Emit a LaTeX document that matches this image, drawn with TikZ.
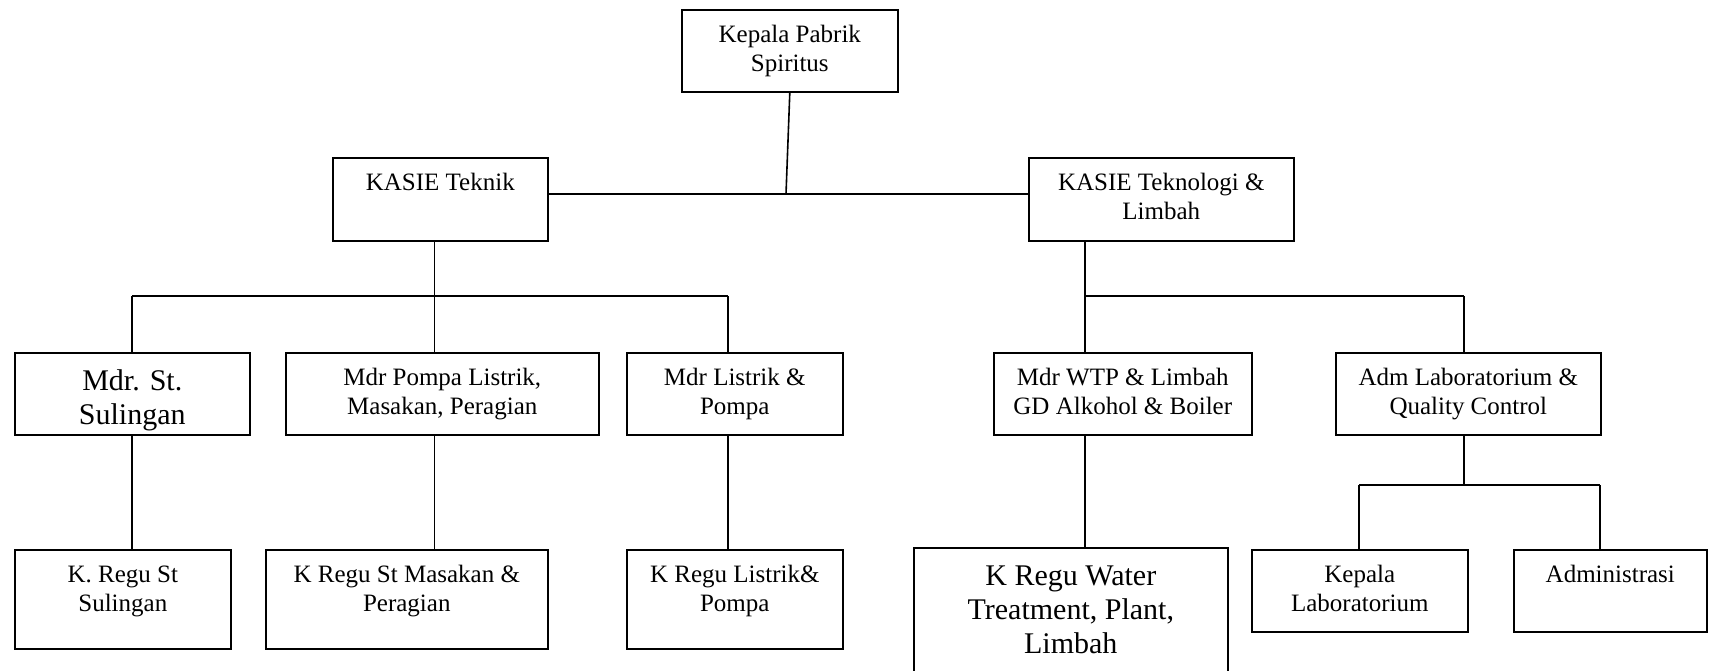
\documentclass[tikz,border=0pt]{standalone}
\usepackage{fontspec}
\setmainfont{Liberation Serif}
\usetikzlibrary{calc}

% text block of one unit: width, height (pt), lines
\newcommand{\unittext}[3]{\parbox[c][#2pt][t]{#1pt}{\centering\fontsize{25}{28.4}\selectfont\vspace*{13pt}\strut#3}}
\newcommand{\bigunittext}[3]{\parbox[c][#2pt][t]{#1pt}{\centering\fontsize{30}{34}\selectfont\vspace*{14pt}\strut#3}}

\tikzset{
  unit/.style={draw, line width=1.6pt, inner sep=0pt, anchor=north west},
  link/.style={line width=1.6pt}
}

\begin{document}
\begin{tikzpicture}[x=1pt, y=-1pt]

        \useasboundingbox (0,0) rectangle (1710,670);

        % top
        \node[unit] (kepala) at (681,9) {\unittext{216}{82}{Kepala Pabrik\\Spiritus}};

        % kasie
        \node[unit] (teknik) at (332,157) {\unittext{215}{83}{KASIE Teknik}};
        \node[unit] (teklim) at (1028,157) {\unittext{265}{83}{KASIE Teknologi \&\\Limbah}};

        % mandor
        \node[unit] (mdrsul) at (14,352) {\bigunittext{235}{82}{Mdr. St.\\Sulingan}};
        \node[unit] (mdrpom) at (285,352) {\unittext{313}{82}{Mdr Pompa Listrik,\\Masakan, Peragian}};
        \node[unit] (mdrlis) at (626,352) {\unittext{216}{82}{Mdr Listrik \&\\Pompa}};
        \node[unit] (mdrwtp) at (993,352) {\unittext{258}{82}{Mdr WTP \& Limbah\\GD Alkohol \& Boiler}};
        \node[unit] (admlab) at (1335,352) {\unittext{265}{82}{Adm Laboratorium \&\\Quality Control}};

        % regu
        \node[unit] (regsul) at (14,549) {\unittext{216}{99}{K. Regu St\\Sulingan}};
        \node[unit] (regmas) at (265,549) {\unittext{282}{99}{K Regu St Masakan \&\\Peragian}};
        \node[unit] (reglis) at (626,549) {\unittext{216}{99}{K Regu Listrik\&\\Pompa}};
        \node[unit] (regwtp) at (913,547) {\bigunittext{314}{140}{K Regu Water\\Treatment, Plant,\\Limbah}};
        \node[unit] (kalab) at (1251,549) {\unittext{216}{82}{Kepala\\Laboratorium}};
        \node[unit] (admin) at (1513,549) {\unittext{193}{82}{Administrasi}};

        % junctions
        \coordinate (top) at (786,194);
        \coordinate (bl) at (132,296);
        \coordinate (tekj) at (434.5,296);
        \coordinate (br) at (728,296);
        \coordinate (limj) at (1085,296);
        \coordinate (rr) at (1464,296);
        \coordinate (labj) at (1464,485);
        \coordinate (labl) at (1359,485);
        \coordinate (labr) at (1600,485);

        \draw[link] (kepala.south) -- (top);
        \draw[link] (teknik.east |- top) -- (teklim.west |- top);

        \draw[link] (teknik.south -| tekj) -- (tekj);
        \draw[link] (bl) -- (br);
        \draw[link] (bl) -- (bl |- mdrsul.north);
        \draw[link] (tekj) -- (tekj |- mdrpom.north);
        \draw[link] (br) -- (br |- mdrlis.north);
        \draw[link] (bl |- mdrsul.south) -- (bl |- regsul.north);
        \draw[link] (tekj |- mdrpom.south) -- (tekj |- regmas.north);
        \draw[link] (br |- mdrlis.south) -- (br |- reglis.north);

        \draw[link] (teklim.south -| limj) -- (limj) -- (rr);
        \draw[link] (limj) -- (limj |- mdrwtp.north);
        \draw[link] (rr) -- (rr |- admlab.north);
        \draw[link] (limj |- mdrwtp.south) -- (limj |- regwtp.north);

        \draw[link] (admlab.south -| labj) -- (labj);
        \draw[link] (labl) -- (labr);
        \draw[link] (labl) -- (labl |- kalab.north);
        \draw[link] (labr) -- (labr |- admin.north);
    \end{tikzpicture}
\end{document}
